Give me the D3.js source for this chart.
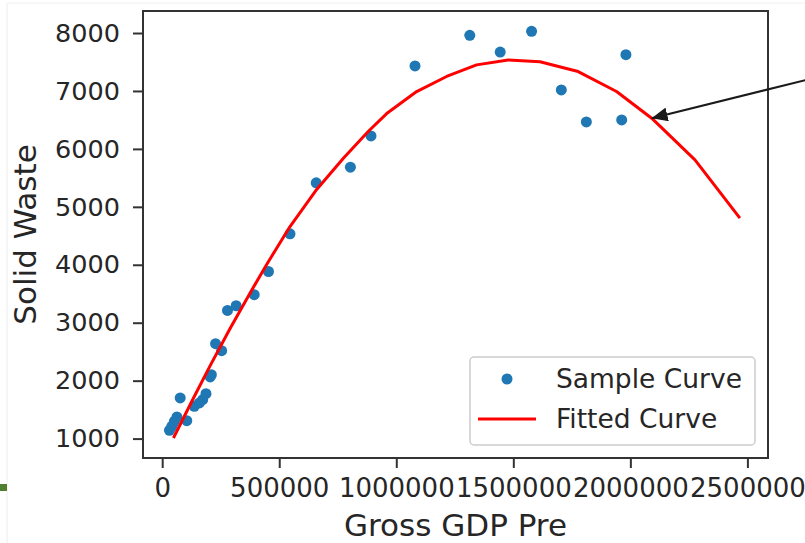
<!DOCTYPE html>
<html>
<head>
<meta charset="utf-8">
<style>

body {
  margin: 0;
  background: #fff;
}

text {
  font-family: "DejaVu Sans", sans-serif;
  fill: #262626;
}

.axis line {
  stroke: #333;
  stroke-width: 2px;
}

</style>
<title></title></head>

<body>
<script type="text/javascript" src="https://d3js.org/d3.v7.min.js"></script>
<script>

// sample points
var gdp = [31000, 41000, 52000, 63000, 77000, 105000, 137000, 159000, 173000, 187000,
           205000, 210000, 228000, 254000, 279000, 316000, 393000, 454000, 546000, 658000,
           804000, 892000, 1080000, 1314000, 1444000, 1578000, 1705000, 1812000, 1963000, 1981000];
var waste = [1143, 1212, 1298, 1374, 1701, 1310, 1557, 1615, 1672, 1776,
             2064, 2103, 2638, 2517, 3212, 3293, 3483, 3884, 4534, 5414,
             5684, 6224, 7431, 7960, 7672, 8029, 7017, 6466, 6500, 7626];

// fitted curve vertices
var fitGdp = [48000, 130000, 205000, 290000, 375000, 447000, 546000, 660000, 774000, 880000,
              959000, 1087000, 1215000, 1343000, 1478000, 1614000, 1777000, 1941000, 2091000, 2276000, 2468000];
var fitWaste = [1010, 1670, 2260, 2900, 3510, 4010, 4660, 5300, 5840, 6300,
                6610, 6990, 7250, 7450, 7535, 7505, 7335, 6990, 6530, 5810, 4805];

var xTicks = [0, 500000, 1000000, 1500000, 2000000, 2500000];
var yTicks = [1000, 2000, 3000, 4000, 5000, 6000, 7000, 8000];
var xLimits = [-82000, 2588000];
var yLimits = [665, 8380];

// annotation arrow (tail is off the right edge)
var arrowFrom = [2760000, 7200];
var arrowTo = [2091000, 6529];

var legendNames = ["Sample Curve", "Fitted Curve"];

var width = 805,
    height = 543;
var margin = {top: 11, right: 37, bottom: 85, left: 143};

var svg = d3.select("body").append("svg")
    .attr("width", width)
    .attr("height", height);

// faint screenshot edges
svg.append("line")
    .attr("x1", 7).attr("x2", 7).attr("y1", 3).attr("y2", height)
    .style("stroke", "#ececec").style("stroke-width", 1);
svg.append("line")
    .attr("x1", 7).attr("x2", width).attr("y1", 3).attr("y2", 3)
    .style("stroke", "#f0f0f0").style("stroke-width", 1);
svg.append("rect")
    .attr("x", 0).attr("y", 484)
    .attr("width", 7).attr("height", 7)
    .style("fill", "#4f7f2f");

var x = d3.scaleLinear().domain(xLimits).range([margin.left, width - margin.right]);
var y = d3.scaleLinear().domain(yLimits).range([height - margin.bottom, margin.top]);

var xAxis = svg.append("g")
    .attr("class", "axis")
    .attr("transform", "translate(0," + (height - margin.bottom) + ")")
    .call(d3.axisBottom(x).tickValues(xTicks).tickSize(10).tickPadding(11).tickFormat(d3.format("d")));

var yAxis = svg.append("g")
    .attr("class", "axis")
    .attr("transform", "translate(" + margin.left + ",0)")
    .call(d3.axisLeft(y).tickValues(yTicks).tickSize(10).tickPadding(13).tickFormat(d3.format("d")));

svg.selectAll(".axis .domain").remove();
xAxis.selectAll("text").style("font-size", "26px").attr("fill", "#262626");
yAxis.selectAll("text").style("font-size", "25.5px").attr("fill", "#262626");

// plot frame
svg.append("rect")
    .attr("x", margin.left)
    .attr("y", margin.top)
    .attr("width", width - margin.left - margin.right)
    .attr("height", height - margin.top - margin.bottom)
    .style("fill", "none")
    .style("stroke", "#333")
    .style("stroke-width", 2);

// samples
var samples = gdp.map(function(d, i) { return {x: d, y: waste[i]}; });
svg.append("g")
    .selectAll("circle")
    .data(samples)
    .enter()
    .append("circle")
    .attr("cx", function(d) { return x(d.x); })
    .attr("cy", function(d) { return y(d.y); })
    .attr("r", 5.5)
    .style("fill", "#1f77b4");

// fitted curve
var fit = fitGdp.map(function(d, i) { return {x: d, y: fitWaste[i]}; });
var line = d3.line()
    .x(function(d) { return x(d.x); })
    .y(function(d) { return y(d.y); });

svg.append("path")
    .datum(fit)
    .attr("d", line)
    .style("fill", "none")
    .style("stroke", "#ff0000")
    .style("stroke-width", 3)
    .style("stroke-linejoin", "round");

// arrow
svg.append("defs").append("marker")
    .attr("id", "head")
    .attr("viewBox", "0 0 16 14")
    .attr("refX", 16)
    .attr("refY", 7)
    .attr("markerUnits", "userSpaceOnUse")
    .attr("markerWidth", 16)
    .attr("markerHeight", 14)
    .attr("orient", "auto")
    .append("path")
    .attr("d", "M0,0L16,7L0,14Z")
    .style("fill", "#1a1a1a");

svg.append("line")
    .attr("x1", x(arrowFrom[0]))
    .attr("y1", y(arrowFrom[1]))
    .attr("x2", x(arrowTo[0]))
    .attr("y2", y(arrowTo[1]))
    .attr("marker-end", "url(#head)")
    .style("stroke", "#1a1a1a")
    .style("stroke-width", 2);

// legend, lower right
var lw = 285, lh = 88;
var lx = width - margin.right - 13 - lw,
    ly = height - margin.bottom - 13 - lh;
var legend = svg.append("g").attr("transform", "translate(" + lx + "," + ly + ")");

legend.append("rect")
    .attr("width", lw)
    .attr("height", lh)
    .attr("rx", 4)
    .style("fill", "#fff")
    .style("fill-opacity", 0.8)
    .style("stroke", "#cccccc")
    .style("stroke-width", 1.5);

legend.append("circle")
    .attr("cx", 37)
    .attr("cy", 22)
    .attr("r", 5.5)
    .style("fill", "#1f77b4");

legend.append("line")
    .attr("x1", 8).attr("x2", 66)
    .attr("y1", 62).attr("y2", 62)
    .style("stroke", "#ff0000")
    .style("stroke-width", 3);

legend.selectAll(".lbl")
    .data(legendNames)
    .enter()
    .append("text")
    .attr("class", "lbl")
    .attr("x", 86)
    .attr("y", function(d, i) { return 31 + i * 40; })
    .style("font-size", "26.5px")
    .text(function(d) { return d; });

// axis titles
svg.append("text")
    .attr("x", (margin.left + width - margin.right) / 2)
    .attr("y", 536)
    .attr("text-anchor", "middle")
    .style("font-size", "31px")
    .text("Gross GDP Pre");

svg.append("text")
    .attr("transform", "translate(36," + ((margin.top + height - margin.bottom) / 2) + ") rotate(-90)")
    .attr("text-anchor", "middle")
    .style("font-size", "31px")
    .text("Solid Waste");

</script>
</body>
</html>
